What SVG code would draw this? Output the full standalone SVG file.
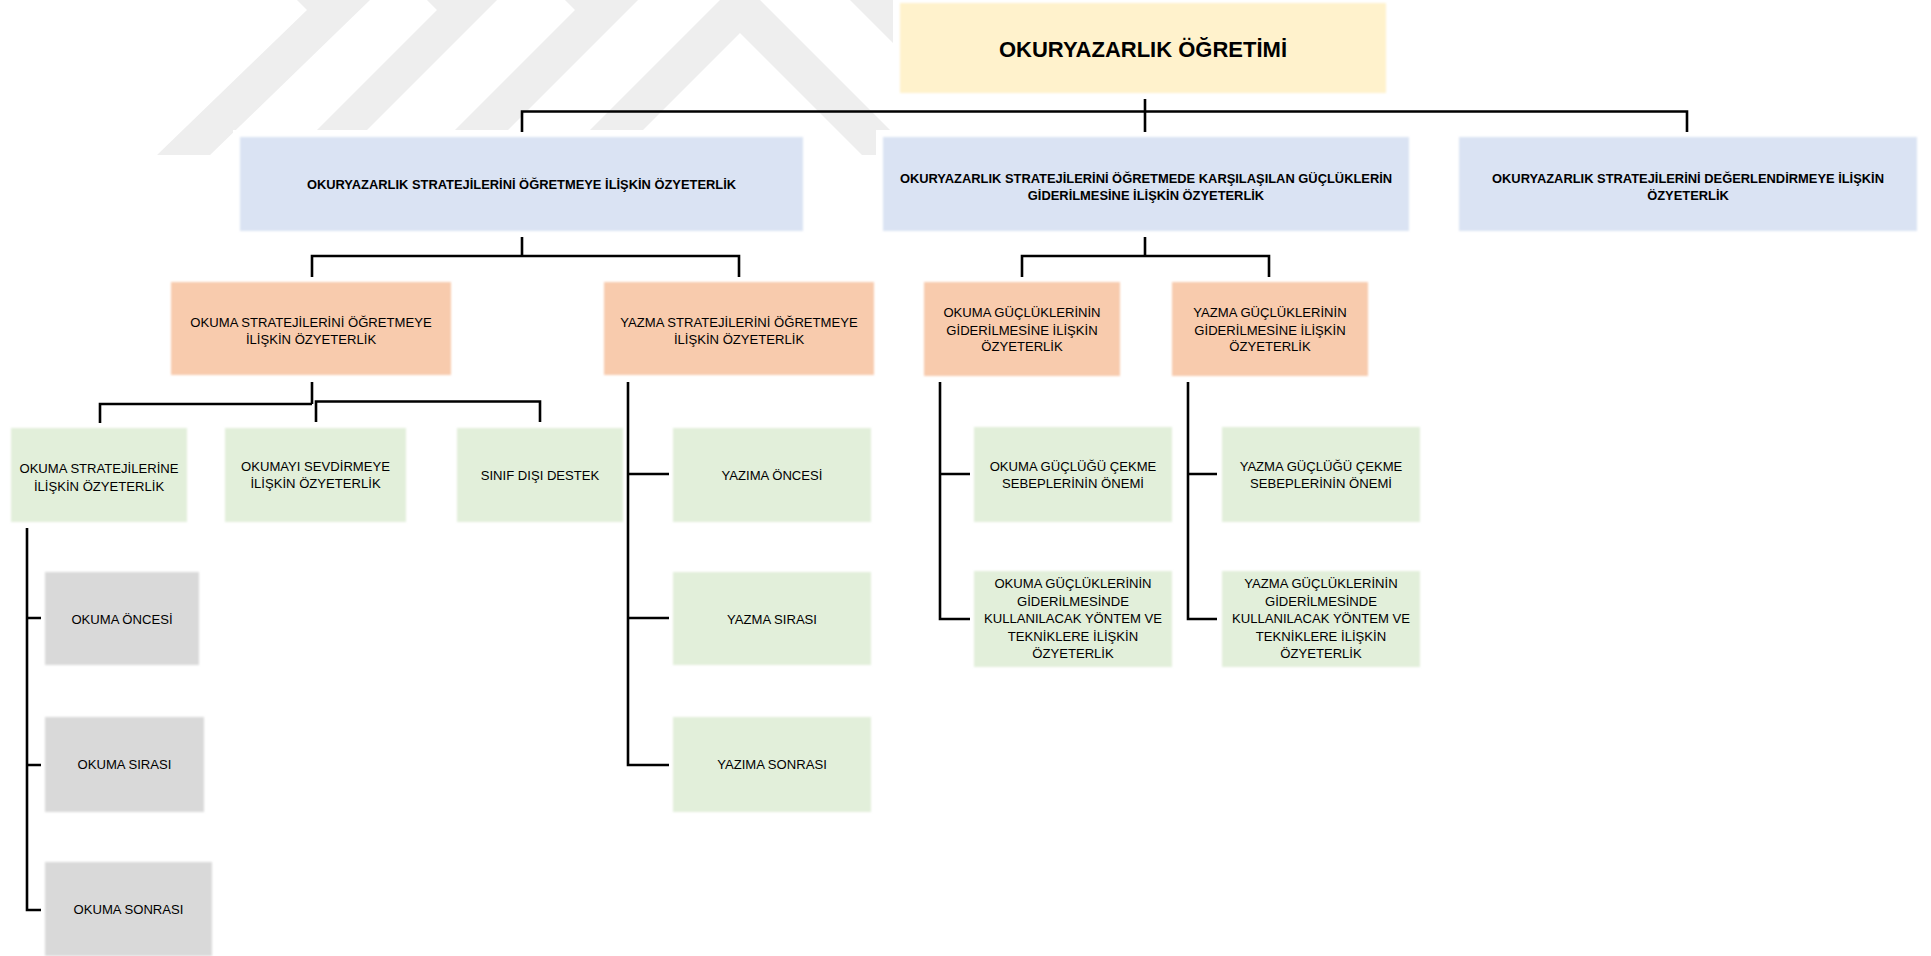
<svg xmlns="http://www.w3.org/2000/svg" width="1931" height="956" viewBox="0 0 1931 956">
<defs>
<filter id="soft" x="-5%" y="-5%" width="110%" height="110%"><feGaussianBlur stdDeviation="1.1"/></filter>
</defs>
<style>
.wm{fill:#eeeeee}
.halo{fill:#ffffff}
.root{fill:#FFF2CC;filter:url(#soft)}
.blue{fill:#DAE3F3;filter:url(#soft)}
.orange{fill:#F8CBAD;filter:url(#soft)}
.green{fill:#E2EFDA;filter:url(#soft)}
.gray{fill:#D9D9D9;filter:url(#soft)}
text{font-family:"Liberation Sans",Arial,sans-serif;fill:#000;text-anchor:middle}
.b{font-weight:bold;font-size:12.9px}
.t{font-weight:bold;font-size:22px}
.r{font-size:13.1px}
.ln{fill:none;stroke:#000;stroke-width:2.6;stroke-linecap:butt;stroke-linejoin:miter}
</style>
<rect width="1931" height="956" fill="#ffffff"/>
<g id="watermark">
<polygon class="wm" points="297,0 370,0 210,155 157,155 307,10"/>
<polygon class="wm" points="427,0 497,0 342,155 292,155 437,10"/>
<polygon class="wm" points="565,0 638,0 483,155 430,155 575,10"/>
<polygon class="wm" points="720,0 760,0 915,155 862,155 740,33 618,155 565,155"/>
<polygon class="wm" points="850,0 905,0 1005,100 950,100"/>
</g>
<g id="n-root">
<rect class="halo" x="893" y="0" width="499" height="100"/>
<rect class="root" x="900" y="3" width="486" height="90"/>
<text class="t" x="1143" y="57">OKURYAZARLIK ÖĞRETİMİ</text>
</g>
<g id="n-b1">
<rect class="halo" x="233" y="130" width="577" height="108"/>
<rect class="blue" x="240" y="137" width="563" height="94"/>
<text class="b" x="521.5" y="188.5">OKURYAZARLIK STRATEJİLERİNİ ÖĞRETMEYE İLİŞKİN ÖZYETERLİK</text>
</g>
<g id="n-b2">
<rect class="halo" x="876" y="130" width="540" height="108"/>
<rect class="blue" x="883" y="137" width="526" height="94"/>
<text class="b" x="1146" y="183">OKURYAZARLIK STRATEJİLERİNİ ÖĞRETMEDE KARŞILAŞILAN GÜÇLÜKLERİN</text>
<text class="b" x="1146" y="200">GİDERİLMESİNE İLİŞKİN ÖZYETERLİK</text>
</g>
<g id="n-b3">
<rect class="blue" x="1459" y="137" width="458" height="94"/>
<text class="b" x="1688" y="183">OKURYAZARLIK STRATEJİLERİNİ DEĞERLENDİRMEYE İLİŞKİN</text>
<text class="b" x="1688" y="200">ÖZYETERLİK</text>
</g>
<g id="n-o1">
<rect class="orange" x="171" y="282" width="280" height="93"/>
<text class="r" x="311" y="327">OKUMA STRATEJİLERİNİ ÖĞRETMEYE</text>
<text class="r" x="311" y="343.5">İLİŞKİN ÖZYETERLİK</text>
</g>
<g id="n-o2">
<rect class="orange" x="604" y="282" width="270" height="93"/>
<text class="r" x="739" y="327">YAZMA STRATEJİLERİNİ ÖĞRETMEYE</text>
<text class="r" x="739" y="343.5">İLİŞKİN ÖZYETERLİK</text>
</g>
<g id="n-o3">
<rect class="orange" x="924" y="282" width="196" height="94"/>
<text class="r" x="1022" y="317">OKUMA GÜÇLÜKLERİNİN</text>
<text class="r" x="1022" y="334.5">GİDERİLMESİNE İLİŞKİN</text>
<text class="r" x="1022" y="351">ÖZYETERLİK</text>
</g>
<g id="n-o4">
<rect class="orange" x="1172" y="282" width="196" height="94"/>
<text class="r" x="1270" y="317">YAZMA GÜÇLÜKLERİNİN</text>
<text class="r" x="1270" y="334.5">GİDERİLMESİNE İLİŞKİN</text>
<text class="r" x="1270" y="351">ÖZYETERLİK</text>
</g>
<g id="n-g1">
<rect class="green" x="11" y="428" width="176" height="94"/>
<text class="r" x="99" y="473">OKUMA STRATEJİLERİNE</text>
<text class="r" x="99" y="490.5">İLİŞKİN ÖZYETERLİK</text>
</g>
<g id="n-g2">
<rect class="green" x="225" y="428" width="181" height="94"/>
<text class="r" x="315.5" y="470.5">OKUMAYI SEVDİRMEYE</text>
<text class="r" x="315.5" y="488">İLİŞKİN ÖZYETERLİK</text>
</g>
<g id="n-g3">
<rect class="green" x="457" y="428" width="166" height="94"/>
<text class="r" x="540" y="480">SINIF DIŞI DESTEK</text>
</g>
<g id="n-y1">
<rect class="green" x="673" y="428" width="198" height="94"/>
<text class="r" x="772" y="480">YAZIMA ÖNCESİ</text>
</g>
<g id="n-y2">
<rect class="green" x="673" y="572" width="198" height="93"/>
<text class="r" x="772" y="624">YAZMA SIRASI</text>
</g>
<g id="n-y3">
<rect class="green" x="673" y="717" width="198" height="95"/>
<text class="r" x="772" y="769">YAZIMA SONRASI</text>
</g>
<g id="n-go1">
<rect class="green" x="974" y="427" width="198" height="95"/>
<text class="r" x="1073" y="471">OKUMA GÜÇLÜĞÜ ÇEKME</text>
<text class="r" x="1073" y="488">SEBEPLERİNİN ÖNEMİ</text>
</g>
<g id="n-go2">
<rect class="green" x="974" y="571" width="198" height="96"/>
<text class="r" x="1073" y="588">OKUMA GÜÇLÜKLERİNİN</text>
<text class="r" x="1073" y="605.5">GİDERİLMESİNDE</text>
<text class="r" x="1073" y="623">KULLANILACAK YÖNTEM VE</text>
<text class="r" x="1073" y="640.5">TEKNİKLERE İLİŞKİN</text>
<text class="r" x="1073" y="658">ÖZYETERLİK</text>
</g>
<g id="n-gy1">
<rect class="green" x="1222" y="427" width="198" height="95"/>
<text class="r" x="1321" y="471">YAZMA GÜÇLÜĞÜ ÇEKME</text>
<text class="r" x="1321" y="488">SEBEPLERİNİN ÖNEMİ</text>
</g>
<g id="n-gy2">
<rect class="green" x="1222" y="571" width="198" height="96"/>
<text class="r" x="1321" y="588">YAZMA GÜÇLÜKLERİNİN</text>
<text class="r" x="1321" y="605.5">GİDERİLMESİNDE</text>
<text class="r" x="1321" y="623">KULLANILACAK YÖNTEM VE</text>
<text class="r" x="1321" y="640.5">TEKNİKLERE İLİŞKİN</text>
<text class="r" x="1321" y="658">ÖZYETERLİK</text>
</g>
<g id="n-k1">
<rect class="gray" x="45" y="572" width="154" height="93"/>
<text class="r" x="122" y="624">OKUMA ÖNCESİ</text>
</g>
<g id="n-k2">
<rect class="gray" x="45" y="717" width="159" height="95"/>
<text class="r" x="124.5" y="769">OKUMA SIRASI</text>
</g>
<g id="n-k3">
<rect class="gray" x="45" y="862" width="167" height="94"/>
<text class="r" x="128.5" y="914">OKUMA SONRASI</text>
</g>
<g id="connectors">
<path class="ln" d="M1145 99V132M522 132V111.5H1687V132"/>
<path class="ln" d="M522 237V256M312 277V256H739V277"/>
<path class="ln" d="M1145 237V256M1022 277V256H1269V277"/>
<path class="ln" d="M312 382V404M100 423V404H312M316 422V401.5H540V422"/>
<path class="ln" d="M628 382V765H669M628 474H669M628 618H669"/>
<path class="ln" d="M940 382V619H970M940 474H970"/>
<path class="ln" d="M1188 382V619H1217M1188 474H1217"/>
<path class="ln" d="M27 528V910H41M27 618H41M27 765H41"/>
</g>
</svg>
